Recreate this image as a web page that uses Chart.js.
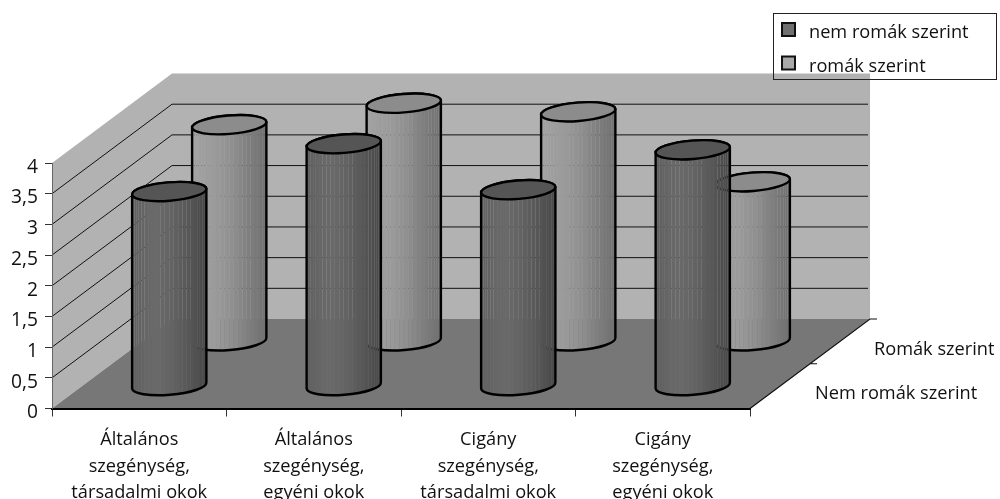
<!DOCTYPE html>
<html lang="hu">
<head>
<meta charset="utf-8">
<title>Szegénység okai</title>
<script src="https://cdn.jsdelivr.net/npm/chart.js@4"></script>
<style>
  html, body { margin: 0; padding: 0; background: #fff; }
  canvas { display: block; }
</style>
</head>
<body>
<canvas id="grafico" width="1000" height="499"></canvas>
<script>
const categorias = [
    ["Általános", "szegénység,", "társadalmi okok"],
    ["Általános", "szegénység,", "egyéni okok"],
    ["Cigány", "szegénység,", "társadalmi okok"],
    ["Cigány", "szegénység,", "egyéni okok"]
];
const nemRomak = [3.17, 3.95, 3.2, 3.85];
const romak = [3.53, 3.88, 3.74, 2.6];
const leyenda = ["nem romák szerint", "romák szerint"];
const profundidad = ["Nem romák szerint", "Romák szerint"];

const fuente = "'Open Sans', sans-serif";
const tamano = 18.2;
const fondoX = 120, fondoY = -89.5;   // desplazamiento de la pared del fondo
const giro = -4.6 * Math.PI / 180;
const radioMenor = 9.2;
const facetas = 26;

// grises de izquierda a derecha de cada cilindro
const estilos = [
    { tapa: "#555555", bandas: [95, 102, 106, 100, 92, 82, 72], muestra: "#707070" },
    { tapa: "#8c8c8c", bandas: [162, 158, 154, 146, 134, 122, 112], muestra: "#a8a8a8" }
];

function poligono(ctx, puntos, color) {
    ctx.beginPath();
    puntos.forEach((p, i) => i ? ctx.lineTo(p[0], p[1]) : ctx.moveTo(p[0], p[1]));
    ctx.closePath();
    ctx.fillStyle = color;
    ctx.fill();
}

function grisEn(bandas, t) {
    const pos = t * (bandas.length - 1);
    const k = Math.min(Math.floor(pos), bandas.length - 2);
    const g = Math.round(bandas[k] + (bandas[k + 1] - bandas[k]) * (pos - k));
    return "rgb(" + g + "," + g + "," + g + ")";
}

function cuerpo(ctx, cx, arriba, abajo, r) {
    ctx.beginPath();
    ctx.ellipse(cx, abajo, r, radioMenor, giro, 0, Math.PI);
    ctx.ellipse(cx, arriba, r, radioMenor, giro, Math.PI, 2 * Math.PI);
    ctx.closePath();
}

function cilindro(ctx, barra, i, fraccion) {
    const cx = barra.x + fondoX * fraccion;
    const arriba = barra.y + fondoY * fraccion;
    const abajo = barra.base + fondoY * fraccion;
    const r = barra.width / 2;

    ctx.save();
    cuerpo(ctx, cx, arriba, abajo, r);
    ctx.clip();
    // las juntas entre facetas dejan ver un poco lo que hay detras
    for (let k = 0; k < facetas; k++) {
        const x0 = cx - r * Math.cos(Math.PI * k / facetas);
        const x1 = cx - r * Math.cos(Math.PI * (k + 1) / facetas);
        ctx.fillStyle = grisEn(estilos[i].bandas, ((x0 + x1) / 2 - cx + r) / (2 * r));
        ctx.fillRect(x0, arriba - 20, x1 - x0, abajo - arriba + 40);
    }
    ctx.restore();

    ctx.save();
    ctx.lineWidth = 2.4;
    ctx.strokeStyle = "#000";
    cuerpo(ctx, cx, arriba, abajo, r);
    ctx.stroke();
    ctx.beginPath();
    ctx.ellipse(cx, arriba, r, radioMenor, giro, 0, 2 * Math.PI);
    ctx.fillStyle = estilos[i].tapa;
    ctx.fill();
    ctx.stroke();
    ctx.restore();
}

// Paredes, suelo y rejilla en perspectiva
const paredes = {
    id: "paredes",
    beforeDraw(chart) {
        const ctx = chart.ctx, a = chart.chartArea, esc = chart.scales.y;
        const arriba = esc.getPixelForValue(esc.max), abajo = esc.getPixelForValue(0);
        poligono(ctx, [[a.left, arriba], [a.left + fondoX, arriba + fondoY], [a.left + fondoX, abajo + fondoY], [a.left, abajo]], "#b2b2b2");
        poligono(ctx, [[a.left + fondoX, arriba + fondoY], [a.right + fondoX, arriba + fondoY], [a.right + fondoX, abajo + fondoY], [a.left + fondoX, abajo + fondoY]], "#b2b2b2");
        poligono(ctx, [[a.left, abajo], [a.right, abajo], [a.right + fondoX, abajo + fondoY], [a.left + fondoX, abajo + fondoY]], "#777777");

        ctx.save();
        esc.ticks.forEach(t => {
            if (t.value === 0 || t.value === esc.max) return;
            const y = esc.getPixelForValue(t.value);
            ctx.lineWidth = 1;
            ctx.strokeStyle = "#111";
            ctx.beginPath();
            ctx.moveTo(a.left, y);
            ctx.lineTo(a.left + fondoX, y + fondoY);
            ctx.lineTo(a.right + fondoX - 2, y + fondoY);
            ctx.stroke();
        });
        ctx.strokeStyle = "#111";
        ctx.lineWidth = 1.2;
        ctx.beginPath();
        ctx.moveTo(a.right, abajo);
        ctx.lineTo(a.right + fondoX, abajo + fondoY);
        ctx.lineTo(a.right + fondoX + 7, abajo + fondoY);
        ctx.moveTo(a.right + fondoX / 2, abajo + fondoY / 2);
        ctx.lineTo(a.right + fondoX / 2 + 7, abajo + fondoY / 2);
        ctx.stroke();
        ctx.restore();
    },
    afterDatasetsDraw(chart) {
        const ctx = chart.ctx;
        // primero la serie del fondo
        [1, 0].forEach(i => {
            chart.getDatasetMeta(i).data.forEach(barra => cilindro(ctx, barra, i, (i + 0.5) / 2));
        });
    },
    afterDraw(chart) {
        const ctx = chart.ctx, a = chart.chartArea, esc = chart.scales.y;
        const abajo = esc.getPixelForValue(0);
        ctx.save();
        ctx.font = tamano + "px " + fuente;
        ctx.fillStyle = "#111";
        ctx.textBaseline = "middle";
        ctx.textAlign = "left";
        ctx.fillText(profundidad[0], a.right + 65, abajo - 15);
        ctx.fillText(profundidad[1], a.right + 124, abajo - 59);

        // leyenda
        ctx.strokeStyle = "#222";
        ctx.lineWidth = 1;
        ctx.strokeRect(773.5, 13.5, 223, 66);
        leyenda.forEach((texto, i) => {
            const y = 23 + i * 33.5;
            ctx.fillStyle = estilos[i].muestra;
            ctx.lineWidth = 2;
            ctx.strokeStyle = "#111";
            ctx.fillRect(782, y, 13, 13);
            ctx.strokeRect(782, y, 13, 13);
            ctx.fillStyle = "#111";
            ctx.fillText(texto, 809, y + 10);
        });
        ctx.restore();
    }
};

const config = {
    type: "bar",
    data: {
        labels: categorias,
        datasets: [
            { label: leyenda[0], data: nemRomak, backgroundColor: "transparent", grouped: false, categoryPercentage: 1, barPercentage: 0.427 },
            { label: leyenda[1], data: romak, backgroundColor: "transparent", grouped: false, categoryPercentage: 1, barPercentage: 0.427 }
        ]
    },
    options: {
        responsive: false,
        animation: false,
        layout: { padding: { top: 163, right: 250, left: 0, bottom: 0 } },
        plugins: { legend: { display: false }, tooltip: { enabled: false } },
        scales: {
            x: {
                afterFit: scale => { scale.height = 90.5; },
                grid: { drawOnChartArea: false, offset: true, color: "#333", tickLength: 8 },
                border: { color: "#000", width: 2 },
                ticks: {
                    color: "#111",
                    maxRotation: 0,
                    padding: 10,
                    font: { family: fuente, size: tamano, lineHeight: 1.46 }
                }
            },
            y: {
                min: 0,
                max: 4,
                afterFit: scale => { scale.width = 52; },
                grid: { drawOnChartArea: false, color: "#333", tickLength: 7 },
                border: { color: "#666", width: 1 },
                ticks: {
                    stepSize: 0.5,
                    color: "#111",
                    padding: 7,
                    font: { family: fuente, size: tamano + 1, lineHeight: 0.45 },
                    // linea vacia para bajar el numero unos pixeles respecto a la marca
                    callback: valor => ["", String(valor).replace(".", ",")]
                }
            }
        }
    },
    plugins: [paredes]
};

new Chart(document.getElementById("grafico"), config);
</script>
</body>
</html>
